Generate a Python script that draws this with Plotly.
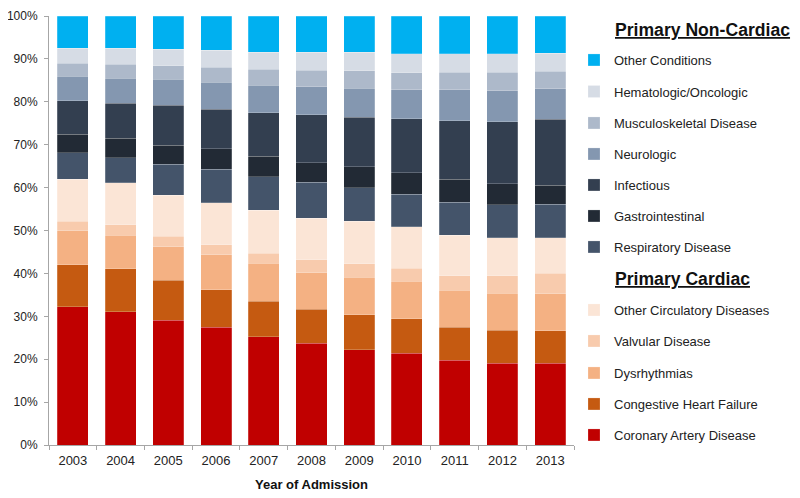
import plotly.graph_objects as go

years = ["2003", "2004", "2005", "2006", "2007", "2008", "2009", "2010", "2011", "2012", "2013"]

# Primary Cardiac (percent of admissions)
coronary_artery = [32.2, 31.1, 29.1, 27.4, 25.2, 23.7, 22.2, 21.4, 19.8, 19.0, 19.0]
congestive_hf = [9.8, 10.0, 9.3, 8.8, 8.3, 8.0, 8.2, 8.0, 7.7, 7.7, 7.6]
dysrhythmias = [7.9, 7.8, 7.8, 8.1, 8.9, 8.5, 8.7, 8.8, 8.6, 8.7, 8.6]
valvular = [2.3, 2.4, 2.5, 2.4, 2.3, 3.0, 3.1, 3.0, 3.4, 4.1, 4.8]
other_circulatory = [9.8, 9.8, 9.5, 9.8, 10.0, 9.7, 9.9, 9.7, 9.4, 8.8, 8.3]

# Primary Non-Cardiac
respiratory = [6.1, 5.9, 7.2, 7.8, 7.8, 8.4, 7.9, 7.6, 7.7, 7.7, 7.8]
gastrointestinal = [4.3, 4.5, 4.5, 4.7, 4.8, 4.5, 4.9, 5.0, 5.4, 4.9, 4.5]
infectious = [7.8, 8.2, 9.3, 9.3, 10.2, 11.2, 11.5, 12.5, 13.6, 14.5, 15.3]
neurologic = [5.8, 5.8, 6.0, 6.3, 6.4, 6.5, 6.8, 6.8, 7.2, 7.2, 7.1]
musculoskeletal = [3.0, 3.3, 3.2, 3.4, 3.7, 3.8, 4.0, 4.0, 4.1, 4.3, 4.1]
hematologic = [3.5, 3.7, 3.9, 4.0, 4.0, 4.3, 4.3, 4.4, 4.3, 4.3, 4.2]
other_conditions = [7.5, 7.5, 7.7, 8.0, 8.4, 8.4, 8.5, 8.8, 8.8, 8.8, 8.7]

y_ticks = [0, 10, 20, 30, 40, 50, 60, 70, 80, 90, 100]
y_tick_labels = ["0%", "10%", "20%", "30%", "40%", "50%", "60%", "70%", "80%", "90%", "100%"]

series = [
    ("Coronary Artery Disease", coronary_artery, "#C00000"),
    ("Congestive Heart Failure", congestive_hf, "#C55A11"),
    ("Dysrhythmias", dysrhythmias, "#F4B183"),
    ("Valvular Disease", valvular, "#F8CBAD"),
    ("Other Circulatory Diseases", other_circulatory, "#FBE5D6"),
    ("Respiratory Disease", respiratory, "#44546A"),
    ("Gastrointestinal", gastrointestinal, "#222A35"),
    ("Infectious", infectious, "#333F50"),
    ("Neurologic", neurologic, "#8497B0"),
    ("Musculoskeletal Disease", musculoskeletal, "#ADB9CA"),
    ("Hematologic/Oncologic", hematologic, "#D6DCE5"),
    ("Other Conditions", other_conditions, "#00B0F0"),
]

# The page body has an 8px margin, so the figure is 792x490 and every
# page-pixel position below is converted to figure pixels by subtracting 8.
OFF = 8
W, H = 800 - OFF, 498 - OFF
ML, MR, MT, MB = 49 - OFF, W - (574 - OFF), 15.5 - OFF, H - (445 - OFF)
plot_w = W - ML - MR
plot_h = H - MT - MB

# legend item vertical centres (page pixels)
legend_px = {
    "Other Conditions": 60, "Hematologic/Oncologic": 91.5, "Musculoskeletal Disease": 123,
    "Neurologic": 154, "Infectious": 185, "Gastrointestinal": 216, "Respiratory Disease": 247,
    "Other Circulatory Diseases": 310, "Valvular Disease": 341, "Dysrhythmias": 373,
    "Congestive Heart Failure": 404, "Coronary Artery Disease": 435,
}


def paper_x(page_px):
    return (page_px - OFF - ML) / plot_w


def paper_y(page_py):
    return (H - MB - (page_py - OFF)) / plot_h


FONT = "Liberation Sans, Arial, sans-serif"

fig = go.Figure()
layout_legends = {}
for i, (name, vals, col) in enumerate(series):
    key = "legend" if i == 0 else f"legend{i + 1}"
    fig.add_trace(go.Bar(
        x=years, y=vals, name=name, legend=key,
        marker=dict(color=col, line=dict(color="rgba(255,255,255,0.35)", width=0.6)),
    ))
    layout_legends[key] = dict(
        xref="container", yref="container",
        x=(574 - OFF) / W, xanchor="left", y=1 - (legend_px[name] - OFF) / H, yanchor="middle",
        bgcolor="rgba(0,0,0,0)", borderwidth=0,
        font=dict(family=FONT, size=13, color="#222222"),
        itemclick=False, itemdoubleclick=False, visible=True,
    )

fig.update_layout(
    width=W, height=H,
    margin=dict(l=ML, r=MR, t=MT, b=MB, autoexpand=False),
    barmode="stack", bargap=0.35, showlegend=True,
    plot_bgcolor="white", paper_bgcolor="white",
    font=dict(family=FONT, size=12, color="#222222"),
    **layout_legends,
    xaxis=dict(
        type="category", showline=True, linecolor="#A6A6A6", linewidth=1,
        ticks="outside", tickson="boundaries", ticklen=4, tickcolor="#A6A6A6",
        ticklabelstandoff=3,
        tickfont=dict(size=13, color="#222222"),
        title=dict(text="<b>Year of Admission</b>", font=dict(size=13, color="#111111"), standoff=13),
        showgrid=False,
    ),
    yaxis=dict(
        range=[0, 100], tickvals=y_ticks, ticktext=y_tick_labels,
        showline=True, linecolor="#A6A6A6", linewidth=1,
        ticks="outside", ticklen=4, tickcolor="#A6A6A6", ticklabelstandoff=4,
        ticklabeloverflow="allow",
        tickfont=dict(size=12, color="#222222"), showgrid=False, zeroline=False,
    ),
    annotations=[
        dict(text="<b><u>Primary Non-Cardiac</u></b>", x=paper_x(613), y=paper_y(30),
             xref="paper", yref="paper", xanchor="left", yanchor="middle", showarrow=False,
             font=dict(size=17.6, color="#111111")),
        dict(text="<b><u>Primary Cardiac</u></b>", x=paper_x(613), y=paper_y(279),
             xref="paper", yref="paper", xanchor="left", yanchor="middle", showarrow=False,
             font=dict(size=17.6, color="#111111")),
    ],
)

fig.write_html("out.html")
